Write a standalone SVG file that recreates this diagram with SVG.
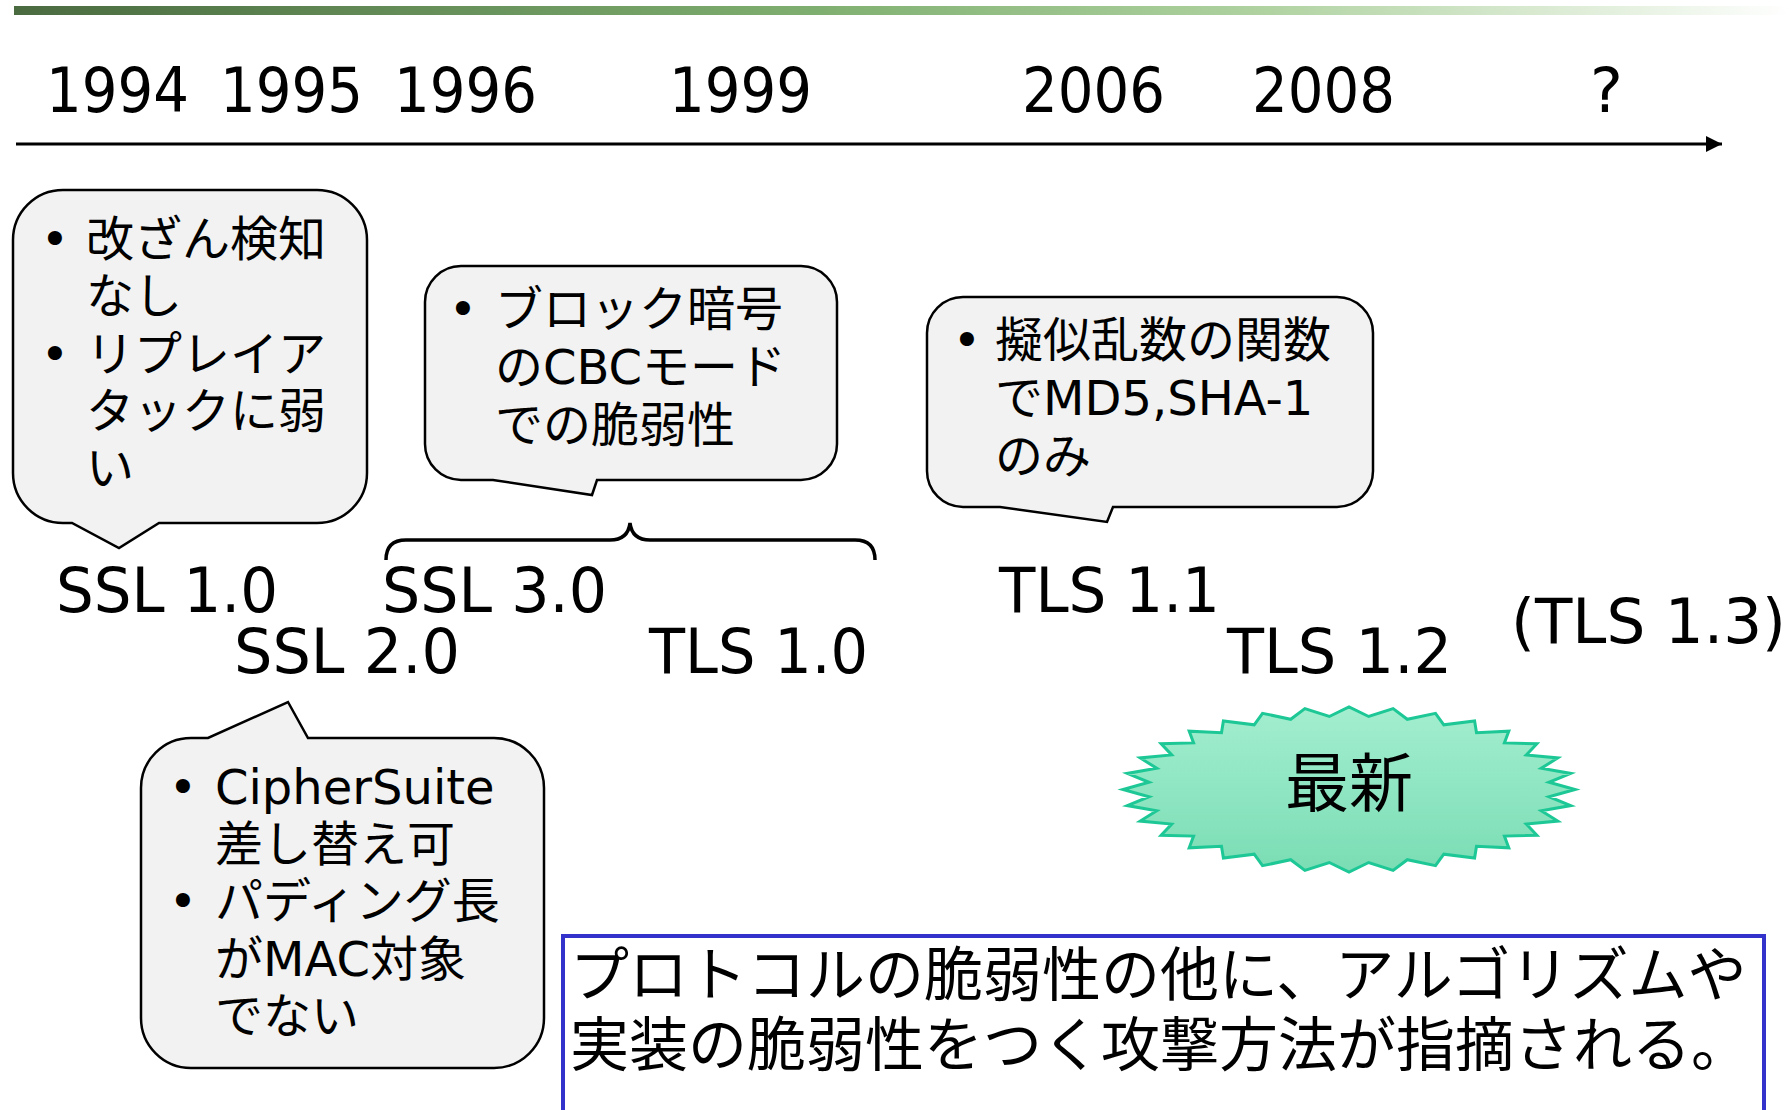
<svg xmlns="http://www.w3.org/2000/svg" width="1791" height="1110" viewBox="0 0 1791 1110">
<defs>
<linearGradient id="bar" x1="0" y1="0" x2="1" y2="0">
<stop offset="0" stop-color="#4A6B40"/>
<stop offset="0.45" stop-color="#7FAF70"/>
<stop offset="0.7" stop-color="#AFD2A0"/>
<stop offset="0.9" stop-color="#E4F0DE"/>
<stop offset="1" stop-color="#FFFFFF"/>
</linearGradient>
<linearGradient id="burst" x1="0" y1="0" x2="0" y2="1">
<stop offset="0" stop-color="#A3EECF"/>
<stop offset="1" stop-color="#7ADDB4"/>
</linearGradient>
<marker id="arrow" markerUnits="userSpaceOnUse" markerWidth="18" markerHeight="18" refX="16" refY="8" orient="auto">
<path d="M0,0 L16,8 L0,16 Z" fill="#000"/>
</marker>
<style>
.callout { fill: #F2F2F2; stroke: #000; stroke-width: 2.5; stroke-linejoin: miter; }
.cj { font-family: "DejaVu Sans", "Noto Sans CJK JP", sans-serif; font-size: 48px; fill: #000; }
.bul { font-family: "DejaVu Sans", sans-serif; font-size: 48px; fill: #000; text-anchor: middle; }
.lbl { font-family: "DejaVu Sans", sans-serif; font-size: 62px; fill: #000; }
.big { font-family: "Noto Sans CJK JP", sans-serif; font-size: 59px; fill: #000; }
</style>
</defs>
<rect x="14" y="6" width="1777" height="9" fill="url(#bar)"/>

<g id="connectors">
<line x1="16" y1="144" x2="1722" y2="144" stroke="#000" stroke-width="3" marker-end="url(#arrow)"/>
</g>

<g id="years">
<text class="lbl" x="46" y="112" textLength="143" lengthAdjust="spacingAndGlyphs">1994</text>
<text class="lbl" x="220" y="112" textLength="143" lengthAdjust="spacingAndGlyphs">1995</text>
<text class="lbl" x="394" y="112" textLength="143" lengthAdjust="spacingAndGlyphs">1996</text>
<text class="lbl" x="669" y="112" textLength="143" lengthAdjust="spacingAndGlyphs">1999</text>
<text class="lbl" x="1022" y="112" textLength="143" lengthAdjust="spacingAndGlyphs">2006</text>
<text class="lbl" x="1252" y="112" textLength="143" lengthAdjust="spacingAndGlyphs">2008</text>
<text class="lbl" x="1590" y="112">?</text>
</g>

<g id="callout-ssl1">
<path class="callout" d="M63,190 H317 A50,50 0 0 1 367,240 V473 A50,50 0 0 1 317,523 H159 L119,548 L72,523 H63 A50,50 0 0 1 13,473 V240 A50,50 0 0 1 63,190 Z"/>
<text class="bul" x="55" y="256">•</text>
<text class="cj" x="86" y="256">改ざん検知</text>
<text class="cj" x="86" y="313">なし</text>
<text class="bul" x="55" y="371">•</text>
<text class="cj" x="86" y="371">リプレイア</text>
<text class="cj" x="86" y="428">タックに弱</text>
<text class="cj" x="86" y="485">い</text>
</g>

<g id="callout-ssl3">
<path class="callout" d="M461,266 H801 A36,36 0 0 1 837,302 V444 A36,36 0 0 1 801,480 H597 L592,495 L493,480 H461 A36,36 0 0 1 425,444 V302 A36,36 0 0 1 461,266 Z"/>
<text class="bul" x="463" y="326">•</text>
<text class="cj" x="495" y="326">ブロック暗号</text>
<text class="cj" x="495" y="384">のCBCモード</text>
<text class="cj" x="495" y="442">での脆弱性</text>
</g>

<g id="brace">
<path d="M386,560 Q386,540 406,540 L610,540 Q628,540 630,523 Q632,540 650,540 L855,540 Q875,540 875,560" fill="none" stroke="#000" stroke-width="3.5"/>
</g>

<g id="callout-tls11">
<path class="callout" d="M963,297 H1337 A36,36 0 0 1 1373,333 V471 A36,36 0 0 1 1337,507 H1113 L1107,522 L1000,507 H963 A36,36 0 0 1 927,471 V333 A36,36 0 0 1 963,297 Z"/>
<text class="bul" x="967" y="357">•</text>
<text class="cj" x="995" y="357">擬似乱数の関数</text>
<text class="cj" x="995" y="415">でMD5,SHA-1</text>
<text class="cj" x="995" y="473">のみ</text>
</g>

<g id="callout-ssl2">
<path class="callout" d="M191,738 H208 L288,702 L308,738 H494 A50,50 0 0 1 544,788 V1018 A50,50 0 0 1 494,1068 H191 A50,50 0 0 1 141,1018 V788 A50,50 0 0 1 191,738 Z"/>
<text class="bul" x="183" y="804">•</text>
<text class="cj" x="215" y="804">CipherSuite</text>
<text class="cj" x="215" y="861">差し替え可</text>
<text class="bul" x="183" y="918">•</text>
<text class="cj" x="215" y="918">パディング長</text>
<text class="cj" x="215" y="976">がMAC対象</text>
<text class="cj" x="215" y="1033">でない</text>
</g>

<g id="versions">
<text class="lbl" x="56" y="612" textLength="222" lengthAdjust="spacingAndGlyphs">SSL 1.0</text>
<text class="lbl" x="382" y="612" textLength="225" lengthAdjust="spacingAndGlyphs">SSL 3.0</text>
<text class="lbl" x="234" y="673" textLength="226" lengthAdjust="spacingAndGlyphs">SSL 2.0</text>
<text class="lbl" x="649" y="673" textLength="219" lengthAdjust="spacingAndGlyphs">TLS 1.0</text>
<text class="lbl" x="999" y="612" textLength="221" lengthAdjust="spacingAndGlyphs">TLS 1.1</text>
<text class="lbl" x="1227" y="673" textLength="225" lengthAdjust="spacingAndGlyphs">TLS 1.2</text>
<text class="lbl" x="1511" y="643" textLength="275" lengthAdjust="spacingAndGlyphs">(TLS 1.3)</text>
</g>

<g id="latest">
<polygon fill="url(#burst)" stroke="#1EC896" stroke-width="3" stroke-linejoin="miter" points="1575,789.5 1549,796.7 1570.7,805.6 1541.3,810.8 1557.8,821.1 1526.3,824.1 1536.9,835.3 1504.4,836.1 1508.8,847.8 1476.5,846.2 1474.6,858.1 1443.8,854.2 1435.5,865.7 1407.3,859.7 1393.1,870.4 1368.7,862.5 1349,872 1329.3,862.5 1304.9,870.4 1290.7,859.7 1262.5,865.7 1254.2,854.2 1223.4,858.1 1221.5,846.2 1189.2,847.8 1193.6,836.1 1161.1,835.3 1171.7,824.1 1140.2,821.1 1156.7,810.8 1127.3,805.6 1149,796.7 1123,789.5 1149,782.3 1127.3,773.4 1156.7,768.2 1140.2,757.9 1171.7,754.9 1161.1,743.7 1193.6,742.9 1189.2,731.2 1221.5,732.8 1223.4,720.9 1254.2,724.8 1262.5,713.3 1290.7,719.3 1304.9,708.6 1329.3,716.5 1349,707 1368.7,716.5 1393.1,708.6 1407.3,719.3 1435.5,713.3 1443.8,724.8 1474.6,720.9 1476.5,732.8 1508.8,731.2 1504.4,742.9 1536.9,743.7 1526.3,754.9 1557.8,757.9 1541.3,768.2 1570.7,773.4 1549,782.3"/>
<text x="1349" y="806" text-anchor="middle" style="font-family: 'Noto Sans CJK JP', sans-serif; font-size: 64px;">最新</text>
</g>

<g id="note">
<rect x="563" y="936" width="1201" height="200" fill="#FFFFFF" stroke="#3333CC" stroke-width="4"/>
<text class="big" x="570" y="996">プロトコルの脆弱性の他に、アルゴリズムや</text>
<text class="big" x="570" y="1066">実装の脆弱性をつく攻撃方法が指摘される。</text>
</g>
</svg>
